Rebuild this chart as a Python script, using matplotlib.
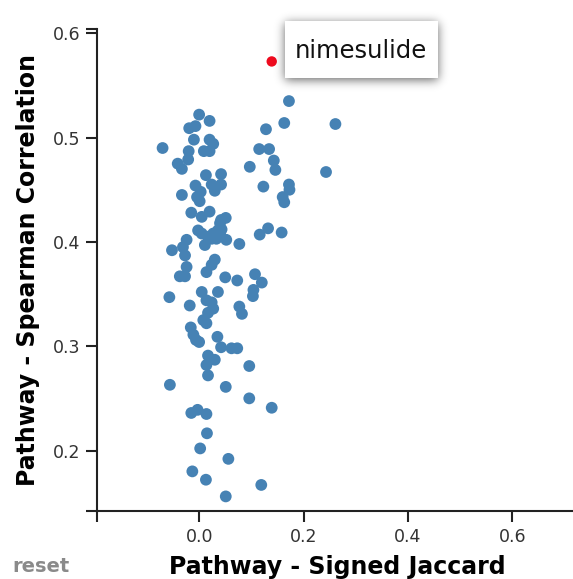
import numpy as np
import matplotlib
matplotlib.use("Agg")
import matplotlib.pyplot as plt
from matplotlib.patches import Rectangle
from matplotlib.ticker import FixedLocator

# Pathway similarity of each compound to the query
jaccard = [
    0.172, 0.000, 0.020, 0.163, 0.261, -0.019, -0.007, 0.128, -0.010, 0.020,
    0.027, 0.020, 0.009, -0.070, -0.020, -0.021, 0.115, 0.134, 0.143, 0.146,
    0.097, -0.041, -0.033, 0.013, 0.042, 0.243, -0.007, 0.003, 0.024, 0.042,
    0.030, 0.123, 0.172, 0.173, -0.033, -0.004, 0.001, 0.160, 0.163, -0.015,
    0.005, 0.020, 0.042, 0.051, 0.036, 0.027, 0.017, 0.033, 0.040, 0.043,
    0.040, 0.052, -0.002, 0.005, 0.011, 0.024, 0.077, -0.024, -0.031, -0.027,
    -0.052, 0.030, 0.024, 0.014, -0.024, -0.037, -0.027, 0.050, 0.073, 0.107,
    0.120, 0.104, 0.103, 0.116, 0.132, 0.158, -0.057, -0.018, 0.005, 0.036,
    0.014, 0.024, 0.027, 0.017, 0.008, 0.014, 0.077, 0.082, -0.016, -0.011,
    -0.006, 0.000, 0.035, 0.042, 0.062, 0.073, 0.017, 0.030, 0.014, 0.017,
    0.096, -0.056, 0.051, 0.096, 0.139, -0.015, -0.003, 0.014, 0.015, 0.002,
    0.056, -0.013, 0.013, 0.119, 0.051,
]
spearman = [
    0.535, 0.522, 0.516, 0.514, 0.513, 0.509, 0.511, 0.508, 0.498, 0.498,
    0.494, 0.487, 0.487, 0.490, 0.487, 0.479, 0.489, 0.489, 0.478, 0.469,
    0.472, 0.475, 0.470, 0.464, 0.465, 0.467, 0.454, 0.448, 0.455, 0.455,
    0.449, 0.453, 0.455, 0.450, 0.445, 0.443, 0.439, 0.443, 0.438, 0.428,
    0.424, 0.429, 0.421, 0.423, 0.411, 0.408, 0.405, 0.403, 0.408, 0.412,
    0.418, 0.402, 0.411, 0.408, 0.397, 0.403, 0.398, 0.402, 0.395, 0.387,
    0.392, 0.383, 0.378, 0.371, 0.376, 0.367, 0.367, 0.366, 0.363, 0.369,
    0.361, 0.354, 0.348, 0.407, 0.413, 0.409, 0.347, 0.339, 0.352, 0.352,
    0.344, 0.342, 0.336, 0.332, 0.325, 0.322, 0.338, 0.331, 0.318, 0.311,
    0.306, 0.304, 0.309, 0.299, 0.298, 0.298, 0.291, 0.287, 0.282, 0.272,
    0.281, 0.263, 0.261, 0.250, 0.241, 0.236, 0.239, 0.235, 0.2165, 0.202,
    0.192, 0.180, 0.172, 0.167, 0.156,
]

# Highlighted compound
hl_name = "nimesulide"
hl_x = 0.139
hl_y = 0.573

x_ticks = [0.0, 0.2, 0.4, 0.6]
y_ticks = [0.2, 0.3, 0.4, 0.5, 0.6]
x_label = "Pathway - Signed Jaccard"
y_label = "Pathway - Spearman Correlation"
reset_label = "reset"

W, H = 573, 579
fig = plt.figure(figsize=(W / 100, H / 100), dpi=100)
fig.patch.set_facecolor("white")

# axes frame in pixel units
L, R, B, T = 97.3, 577.0, H - 510.7, H - 29.0
ax = fig.add_axes([L / W, B / H, (R - L) / W, (T - B) / H])
xmin, xmax = -0.195, 0.7236
ymin, ymax = 0.1423, 0.6041
ax.set_xlim(xmin, xmax)
ax.set_ylim(ymin, ymax)

ax.scatter(jaccard, spearman, s=72, color="#4682b4", edgecolors="none", zorder=3)
ax.scatter([hl_x], [hl_y], s=56, color="#ee0a1e", edgecolors="none", zorder=4)

for side in ("top", "right"):
    ax.spines[side].set_visible(False)
for side in ("left", "bottom"):
    ax.spines[side].set_color("#222222")
    ax.spines[side].set_linewidth(1.5)

ax.set_xticks(x_ticks)
ax.set_yticks(y_ticks)
ax.set_xticklabels([f"{v:.1f}" for v in x_ticks])
ax.set_yticklabels([f"{v:.1f}" for v in y_ticks])
ax.xaxis.set_minor_locator(FixedLocator([xmin]))
ax.yaxis.set_minor_locator(FixedLocator([ymin, ymax]))
ax.tick_params(which="both", direction="out", length=8, width=1.5, color="#222222")
ax.tick_params(which="major", labelsize=12.5, labelcolor="#333333", pad=4.3)

fig.text((L + R) / 2 / W, 12 / H, x_label, ha="center", va="center",
         fontsize=17, fontweight="bold", color="#000000")
fig.text(28 / W, (B + T) / 2 / H, y_label, ha="center", va="center",
         rotation=90, fontsize=17, fontweight="bold", color="#000000")
fig.text(12.7 / W, 12 / H, reset_label, ha="left", va="center",
         fontsize=14, fontweight="bold", color="#8a8a8a")

# tooltip overlay in pixel coordinates
ov = fig.add_axes([0, 0, 1, 1], zorder=10)
ov.set_xlim(0, W)
ov.set_ylim(0, H)
ov.axis("off")
ov.patch.set_alpha(0)

bx0, bx1 = 285.0, 438.0
by0, by1 = H - 78.0, H - 20.7

# blurred drop shadow
pad = 30
sx0, sx1 = int(bx0 - pad), int(bx1 + pad)
sy0, sy1 = int(by0 - pad), int(by1 + pad)
yy, xx = np.mgrid[sy0:sy1, sx0:sx1] + 0.5
mask = ((xx >= bx0) & (xx <= bx1) & (yy >= by0 - 2) & (yy <= by1 - 2)).astype(float)
sigma = 5.0
k = np.arange(-15, 16)
g = np.exp(-k ** 2 / (2 * sigma ** 2))
g /= g.sum()
blur = np.apply_along_axis(lambda r: np.convolve(r, g, mode="same"), 1, mask)
blur = np.apply_along_axis(lambda c: np.convolve(c, g, mode="same"), 0, blur)
rgba = np.zeros(blur.shape + (4,))
rgba[..., 3] = blur * 0.6
ov.imshow(rgba, extent=(sx0, sx1, sy0, sy1), origin="lower",
          interpolation="bilinear", zorder=1, aspect="auto")
ov.add_patch(Rectangle((bx0, by0), bx1 - bx0, by1 - by0, facecolor="white",
                       edgecolor="none", zorder=2))
ov.text(295, H - 58, hl_name, ha="left", va="baseline", fontsize=17.5,
        color="#111111", zorder=3)
ov.set_xlim(0, W)
ov.set_ylim(0, H)

fig.savefig("out.png", dpi=100)
